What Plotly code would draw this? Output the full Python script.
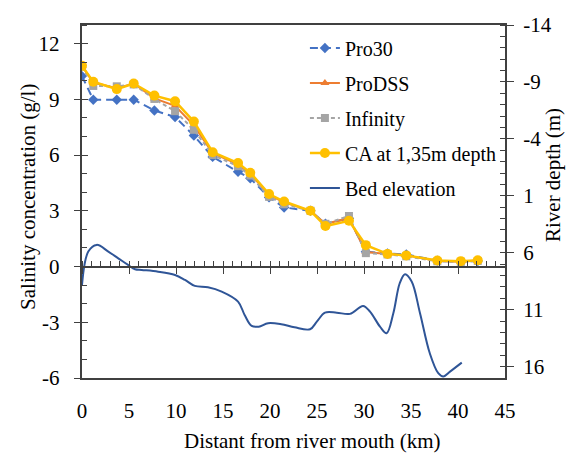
import plotly.graph_objects as go

# ---- data ----
km = [0, 1.2, 3.7, 5.5, 7.7, 9.9, 11.9, 13.9, 16.6, 17.9, 19.9, 21.5, 24.3,
      25.9, 28.4, 30.2, 32.5, 34.5, 37.8, 40.3, 42.1]
pro30 = [10.25, 8.98, 8.98, 8.98, 8.4, 8.05, 7.05, 5.9, 5.1, 4.75, 3.72, 3.18, 3.0,
         2.3, 2.6, 0.8, 0.7, 0.65, 0.32, 0.25, 0.3]
prodss = [10.8, 9.9, 9.6, 9.85, 9.05, 8.65, 7.6, 6.1, 5.5, 5.0, 3.85, 3.45, 3.0,
          2.3, 2.6, 0.78, 0.68, 0.6, 0.3, 0.26, 0.33]
infinity = [10.75, 9.72, 9.7, 9.8, 9.02, 8.36, 7.36, 6.0, 5.4, 4.9, 3.75, 3.35, 3.0,
            2.3, 2.72, 0.72, 0.65, 0.55, 0.28, 0.25, 0.3]
ca = [10.8, 9.95, 9.55, 9.85, 9.2, 8.9, 7.8, 6.15, 5.57, 5.05, 3.9, 3.5, 3.0,
      2.18, 2.46, 1.15, 0.68, 0.6, 0.32, 0.29, 0.34]

bed_km = [0, 0.67, 1.56, 2.8, 3.86, 4.9, 5.64, 6.35, 8.1, 9.9, 10.96, 12.0, 13.4,
          14.86, 16.6, 17.3, 18.05, 18.8, 19.8, 21.2, 22.6, 24.26, 24.98, 25.85,
          27.1, 28.5, 29.9, 30.64, 31.7, 32.4, 33.12, 33.8, 34.36, 35.07, 35.96,
          37.0, 37.9, 38.44, 39.15, 40.4]
bed_depth = [8.83, 5.9, 5.31, 5.9, 6.49, 7.07, 7.45, 7.51, 7.66, 7.95, 8.39, 8.91, 9.03,
             9.41, 10.29, 11.46, 12.43, 12.49, 12.19, 12.28, 12.55, 12.72, 12.05, 11.26,
             11.26, 11.37, 10.67, 11.17, 12.49, 13.07, 11.31, 8.68, 7.89, 8.53, 11.31,
             14.83, 16.58, 16.87, 16.44, 15.65]

left_ticks = [-6, -3, 0, 3, 6, 9, 12]
left_labels = ["-6", "-3", "0", "3", "6", "9", "12"]
right_ticks = [-14, -9, -4, 1, 6, 11, 16]
right_labels = ["-14", "-9", "-4", "1", "6", "11", "16"]
x_ticks = [0, 5, 10, 15, 20, 25, 30, 35, 40, 45]

FONT = "Liberation Serif"
AX = "#404040"
NB = "\u00a0"

fig = go.Figure()
fig.add_trace(go.Scatter(x=km, y=pro30, name="Pro30", mode="lines+markers",
                         line=dict(color="#4472C4", width=2, dash="8px,5px"),
                         marker=dict(symbol="diamond", size=8, color="#4472C4"),
                         legendgroup="a"))
fig.add_trace(go.Scatter(x=km, y=prodss, name="ProDSS", mode="lines+markers",
                         line=dict(color="#ED7D31", width=2),
                         marker=dict(symbol="triangle-up", size=8, color="#ED7D31"),
                         legendgroup="b"))
fig.add_trace(go.Scatter(x=km, y=infinity, name="Infinity", mode="lines+markers",
                         line=dict(color="#A5A5A5", width=2, dash="4px,3px"),
                         marker=dict(symbol="square", size=8, color="#A5A5A5"),
                         legendgroup="c"))
fig.add_trace(go.Scatter(x=km, y=ca, name="CA at 1,35m depth", mode="lines+markers",
                         line=dict(color="#FFC000", width=2.5),
                         marker=dict(symbol="circle", size=10, color="#FFC000"),
                         legendgroup="d"))
fig.add_trace(go.Scatter(x=bed_km, y=bed_depth, name="Bed elevation", mode="lines",
                         line=dict(color="#2F5597", width=2, shape="spline", smoothing=1.0),
                         yaxis="y2", legendgroup="e"))
# empty helper traces so the tick-only overlay axes get drawn
fig.add_trace(go.Scatter(x=[], y=[], xaxis="x2", yaxis="y3", showlegend=False,
                         hoverinfo="skip"))
fig.add_trace(go.Scatter(x=[], y=[], xaxis="x", yaxis="y4", showlegend=False,
                         hoverinfo="skip"))

tickfont = dict(family=FONT, size=21, color="black")
titlefont = dict(family=FONT, size=21, color="black")

fig.update_layout(
    width=581, height=459,
    margin=dict(l=82, r=76, t=25, b=81),
    paper_bgcolor="white", plot_bgcolor="white",
    font=dict(family=FONT, size=21, color="black"),
    showlegend=True,
    legend=dict(x=0.527, y=0.99, xanchor="left", yanchor="top",
                bgcolor="rgba(0,0,0,0)", font=dict(family=FONT, size=20, color="black"),
                tracegroupgap=6, itemwidth=30),
    xaxis=dict(range=[0, 45], tickvals=x_ticks, ticks="outside", ticklen=13,
               tickcolor="rgba(0,0,0,0)", showline=True, linecolor=AX,
               linewidth=1.5, mirror=True, showgrid=False, zeroline=False,
               tickfont=tickfont),
    xaxis2=dict(range=[0, 45], overlaying="x", anchor="free", position=6 / 19,
                tickvals=x_ticks, ticks="outside", ticklen=7, tickcolor=AX, tickwidth=1.3,
                minor=dict(ticks="inside", ticklen=5, dtick=1, tickcolor=AX),
                showticklabels=False, showline=True, linecolor=AX, linewidth=1.5,
                showgrid=False, zeroline=False),
    yaxis=dict(range=[-6, 13], tickvals=left_ticks,
               ticktext=[t + NB * 2 for t in left_labels], ticks="outside",
               ticklen=6, tickcolor=AX, tickwidth=1.3,
               minor=dict(ticks="inside", ticklen=5, tickcolor=AX, dtick=1),
               showline=True, linecolor=AX, linewidth=1.5,
               showgrid=False, zeroline=False, tickfont=tickfont),
    yaxis3=dict(range=[-6, 13], overlaying="y", side="left", anchor="x",
                tickvals=left_ticks, ticks="inside", ticklen=6, tickcolor=AX, tickwidth=1.3,
                showticklabels=False, showline=False, showgrid=False, zeroline=False),
    yaxis2=dict(range=[17, -14], overlaying="y", side="right", anchor="x",
                tickvals=right_ticks, ticktext=[NB + t for t in right_labels],
                ticks="outside", ticklen=7, tickcolor=AX, tickwidth=1.3,
                minor=dict(ticks="inside", ticklen=5, dtick=1, tick0=-14, tickcolor=AX),
                showline=True, linecolor=AX, linewidth=1.5, showgrid=False, zeroline=False,
                tickfont=tickfont),
    yaxis4=dict(range=[17, -14], overlaying="y", side="right", anchor="x",
                tickvals=right_ticks, ticks="inside", ticklen=5, tickcolor=AX, tickwidth=1.3,
                showticklabels=False, showline=False, showgrid=False, zeroline=False),
    annotations=[
        dict(text="Distant from river mouth (km)", xref="paper", yref="paper",
             x=0.546, y=-0.178, xanchor="center", yanchor="middle", showarrow=False,
             font=titlefont),
        dict(text="Salinity concentration (g/l)", xref="paper", yref="paper",
             x=-0.1277, y=0.513, xanchor="center", yanchor="middle", showarrow=False,
             textangle=-90, font=titlefont),
        dict(text="River depth (m)", xref="paper", yref="paper",
             x=1.1135, y=0.575, xanchor="center", yanchor="middle", showarrow=False,
             textangle=-90, font=titlefont),
    ],
)

fig.write_html("out.html")
